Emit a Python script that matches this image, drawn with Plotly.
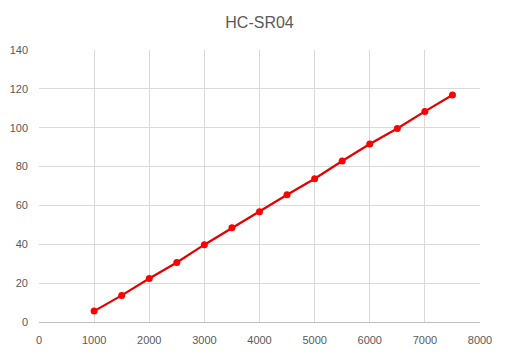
import plotly.graph_objects as go

distance = [1000, 1500, 2000, 2500, 3000, 3500, 4000, 4500, 5000, 5500, 6000, 6500, 7000, 7500]
reading = [5.6, 13.7, 22.4, 30.6, 39.8, 48.5, 56.8, 65.5, 73.7, 82.9, 91.6, 99.6, 108.4, 116.8]
title_text = "HC-SR04"

fig = go.Figure()
fig.add_trace(go.Scatter(
    x=distance, y=reading, mode="lines+markers",
    line=dict(color="#e60000", width=2.25),
    marker=dict(color="#ff0000", size=7),
    showlegend=False,
))

fig.update_layout(
    width=508, height=354,
    margin=dict(l=39, r=28, t=50, b=32, autoexpand=False),
    paper_bgcolor="white", plot_bgcolor="white",
    font=dict(family="Liberation Sans, Arial, sans-serif", color="#595959", size=11),
    title=dict(text=title_text, x=0.5, xanchor="center", xref="paper",
               y=1 - 22 / 354, yanchor="middle", yref="container",
               font=dict(size=16, color="#595959")),
    xaxis=dict(range=[0, 8000], tick0=0, dtick=1000, showgrid=True, gridcolor="#d9d9d9",
               gridwidth=1, zeroline=False, showline=True, linecolor="#bfbfbf", linewidth=1,
               ticks="", ticklabelstandoff=8, automargin=False),
    yaxis=dict(range=[0, 140], tick0=0, dtick=20, showgrid=True, gridcolor="#d9d9d9",
               gridwidth=1, zeroline=False, showline=False, ticks="", ticklabelstandoff=10,
               automargin=False),
)

fig.write_html("out.html", config={"displayModeBar": False},
               post_script="document.body.style.margin='0px';")
